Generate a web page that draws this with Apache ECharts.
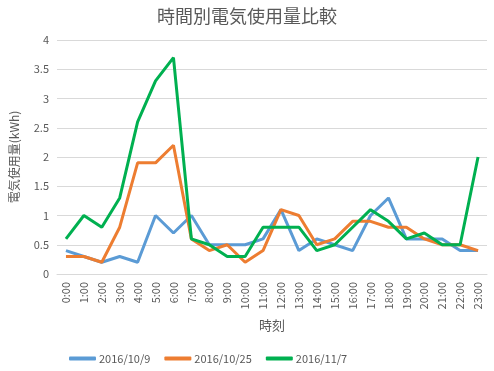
<!DOCTYPE html>
<html><head><meta charset="utf-8">
<script src="https://cdn.jsdelivr.net/npm/echarts@6/dist/echarts.min.js"></script>
<style>html,body{margin:0;padding:0;background:#fff}#c{width:494px;height:371px}</style>
</head><body><div id="c"></div>
<script>
const hours = ['0:00','1:00','2:00','3:00','4:00','5:00','6:00','7:00','8:00','9:00','10:00','11:00','12:00','13:00','14:00','15:00','16:00','17:00','18:00','19:00','20:00','21:00','22:00','23:00'];
const s1009 = [0.4,0.3,0.2,0.3,0.2,1.0,0.7,1.0,0.5,0.5,0.5,0.6,1.1,0.4,0.6,0.5,0.4,1.0,1.3,0.6,0.6,0.6,0.4,0.4];
const s1025 = [0.3,0.3,0.2,0.8,1.9,1.9,2.2,0.6,0.4,0.5,0.2,0.4,1.1,1.0,0.5,0.6,0.9,0.9,0.8,0.8,0.6,0.5,0.5,0.4];
const s1107 = [0.6,1.0,0.8,1.3,2.6,3.3,3.7,0.6,0.5,0.3,0.3,0.8,0.8,0.8,0.4,0.5,0.8,1.1,0.9,0.6,0.7,0.5,0.5,2.0];
const seriesNames = ['2016/10/9','2016/10/25','2016/11/7'];
const colors = ['#5B9BD5','#ED7D31','#00B050'];
const font = "'Noto Sans CJK JP', sans-serif";
const chart = echarts.init(document.getElementById('c'));
chart.setOption({
  animation: false,
  textStyle: {fontFamily: font},
  title: {text: '時間別電気使用量比較', left: 'center', top: 2,
    textStyle: {fontFamily: font, fontSize: 18, fontWeight: 'normal', color: '#595959'}},
  legend: {bottom: 2, left: 64, itemWidth: 27, itemHeight: 4, itemGap: 14,
    icon: 'roundRect',
    textStyle: {fontFamily: font, fontSize: 11, color: '#595959', padding: [0, 0, 0, -2]},
    data: seriesNames},
  grid: {left: 52, right: 7, top: 40, bottom: 97},
  xAxis: {type: 'category', data: hours, boundaryGap: true,
    name: '時刻', nameLocation: 'middle', nameGap: 45,
    nameTextStyle: {fontFamily: font, fontSize: 13, color: '#595959'},
    axisLine: {lineStyle: {color: '#D9D9D9'}}, axisTick: {show: false},
    axisLabel: {rotate: 90, interval: 0, fontSize: 11, color: '#595959', fontFamily: font, margin: 8}},
  yAxis: {type: 'value', min: 0, max: 4, interval: 0.5,
    name: '電気使用量(kWh)', nameLocation: 'middle', nameGap: 37, nameRotate: 90,
    nameTextStyle: {fontFamily: font, fontSize: 12, color: '#595959'},
    axisLine: {show: false}, axisTick: {show: false},
    axisLabel: {fontSize: 11, color: '#595959', fontFamily: font, margin: 8},
    splitLine: {lineStyle: {color: '#D9D9D9'}}},
  series: [s1009, s1025, s1107].map((d, i) => ({
    name: seriesNames[i], type: 'line', data: d, symbol: 'none',
    lineStyle: {width: 3, color: colors[i]}, itemStyle: {color: colors[i]}
  }))
});
</script></body></html>
